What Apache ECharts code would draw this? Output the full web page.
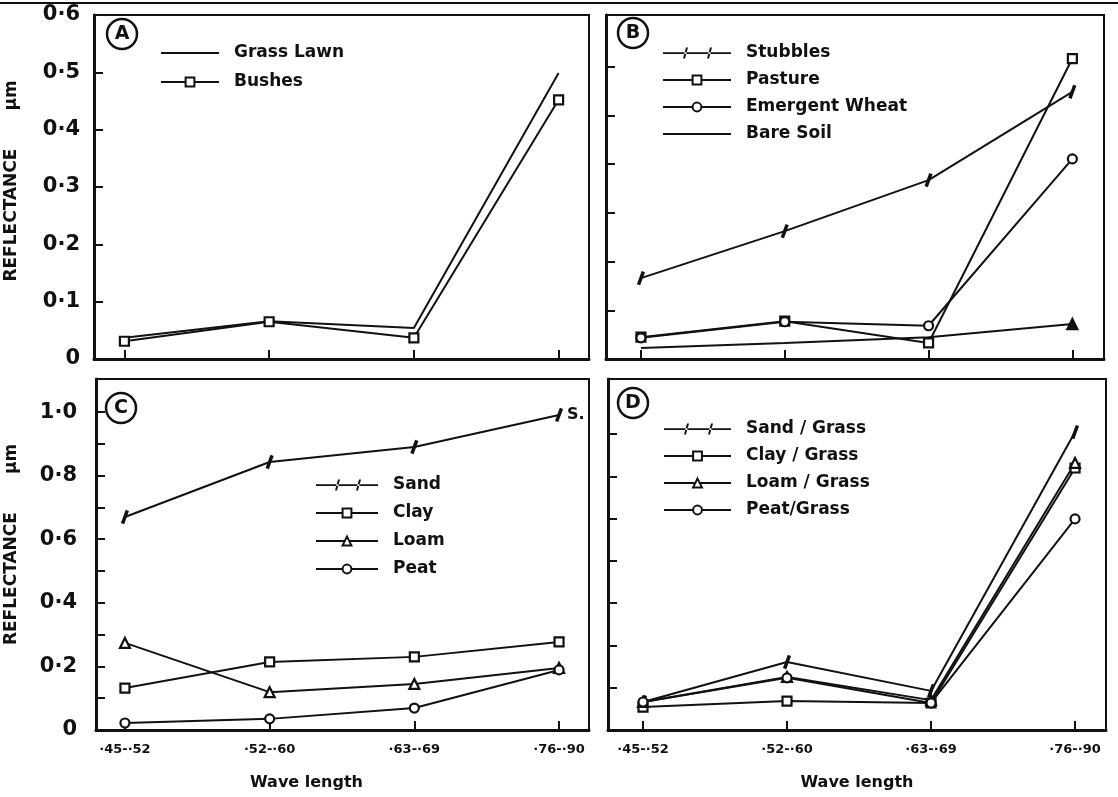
<!DOCTYPE html>
<html><head><meta charset="utf-8">
<script src="https://cdn.jsdelivr.net/npm/echarts@6/dist/echarts.min.js"></script>
<style>html,body{margin:0;padding:0;background:#fff}#c{width:1118px;height:797px}</style>
</head><body><div id="c"></div>
<script>
// ---------- data ----------
const categories = ['·45-·52', '·52-·60', '·63-·69', '·76-·90'];
const catIndex = [0, 1, 2, 3];

const yTickValuesAB = [0, 0.1, 0.2, 0.3, 0.4, 0.5, 0.6];
const yTickLabelsAB = ['0', '0·1', '0·2', '0·3', '0·4', '0·5', '0·6'];
const yTickValuesCD = [0, 0.2, 0.4, 0.6, 0.8, 1.0];
const yTickLabelsCD = ['0', '0·2', '0·4', '0·6', '0·8', '1·0'];
const yMinorTicksC = [0, 0.1, 0.2, 0.3, 0.4, 0.5, 0.6, 0.7, 0.8, 0.9, 1.0];
const yTicksB = [0.085, 0.17, 0.255, 0.34, 0.425, 0.51];
const yTicksD = [0.133, 0.266, 0.399, 0.532, 0.665, 0.798, 0.931];

// Panel A
const grassLawn = [0.037, 0.066, 0.054, 0.499];
const bushes = [0.031, 0.065, 0.037, 0.452];
// Panel B
const stubbles = [0.141, 0.223, 0.312, 0.466];
const pasture = [0.038, 0.066, 0.028, 0.524];
const emergentWheat = [0.037, 0.065, 0.058, 0.349];
const bareSoil = [0.019, 0.028, 0.038, 0.061];
// Panel C
const sand = [0.670, 0.843, 0.890, 0.991];
const clay = [0.132, 0.214, 0.230, 0.277];
const loam = [0.274, 0.119, 0.145, 0.195];
const peat = [0.022, 0.035, 0.069, 0.189];
// Panel D
const sandGrass = [0.088, 0.214, 0.123, 0.937];
const clayGrass = [0.072, 0.091, 0.085, 0.824];
const loamGrass = [0.088, 0.167, 0.094, 0.840];
const peatGrass = [0.088, 0.164, 0.085, 0.664];

// ---------- styles ----------
const INK = '#111';
const FONT = 'DejaVu Sans';
const tickPath = 'path://M0,0 L1,0 L1,4 L0,4 Z';

function pts(arr) { return arr.map((v, i) => [catIndex[i], v]); }

function lineSeries(name, arr, idx, sym, extra) {
  const s = {
    name, type: 'line', xAxisIndex: idx, yAxisIndex: idx,
    data: pts(arr),
    lineStyle: { color: INK, width: 2 },
    symbol: sym, symbolSize: 9,
    itemStyle: { color: '#fff', borderColor: INK, borderWidth: 2.2 },
    emphasis: { disabled: true }, animation: false, z: 3
  };
  if (sym === 'tick') {
    s.symbol = tickPath; s.symbolSize = 14; s.symbolRotate = -20; s.symbolKeepAspect = true;
    s.itemStyle = { color: INK, borderWidth: 0 };
  }
  if (sym === 'triangle') s.symbolSize = 10;
  return Object.assign(s, extra || {});
}

const grids = [
  { left: 94, right: 529, top: 15, bottom: 438 },
  { left: 606, right: 14, top: 15, bottom: 438 },
  { left: 96, right: 529, top: 379, bottom: 67 },
  { left: 608, right: 12, top: 379, bottom: 67 }
].map(g => Object.assign(g, { show: true, borderColor: INK, borderWidth: 2, containLabel: false }));

const xRanges = [[-0.21, 3.21], [-0.243, 3.22], [-0.2, 3.207], [-0.243, 3.215]];
const xAxes = xRanges.map((r, i) => ({
  type: 'value', gridIndex: i, min: r[0], max: r[1],
  splitLine: { show: false },
  axisLine: { show: true, onZero: false, lineStyle: { color: INK, width: 3 } },
  axisTick: { show: true, inside: true, length: 9, customValues: catIndex, lineStyle: { color: INK, width: 2 } },
  axisLabel: i < 2 ? { show: false } : {
    show: true, customValues: catIndex, formatter: v => categories[Math.round(v)],
    fontFamily: FONT, fontWeight: 'bold', fontSize: 13, color: INK, margin: 13
  },
  name: i < 2 ? '' : 'Wave length',
  nameLocation: 'middle', nameGap: 45,
  nameTextStyle: {
    fontFamily: FONT, fontWeight: 'bold', fontSize: 16, color: INK,
    padding: i === 2 ? [0, 72, 0, 0] : 0
  }
}));

function labelFmt(values, labels) {
  return v => { const k = values.findIndex(t => Math.abs(t - v) < 1e-6); return k >= 0 ? labels[k] : ''; };
}
const yName = '{a|REFLECTANCE}{b|μm}';
const yNameStyle = pad => ({
  fontFamily: FONT, fontWeight: 'bold', fontSize: 17, color: INK,
  padding: [0, 0, 0, pad],
  rich: {
    a: { fontFamily: FONT, fontWeight: 'bold', fontSize: 17, color: INK },
    b: { fontFamily: FONT, fontWeight: 'bold', fontSize: 17, color: INK, padding: [0, 0, 0, 38] }
  }
});
const yAxes = [
  {
    type: 'value', gridIndex: 0, min: 0, max: 0.6,
    axisTick: { show: true, inside: true, length: 9, customValues: yTickValuesAB, lineStyle: { color: INK, width: 2 } },
    axisLabel: { show: true, customValues: yTickValuesAB, formatter: labelFmt(yTickValuesAB, yTickLabelsAB), fontFamily: FONT, fontWeight: 'bold', fontSize: 21, color: INK, margin: 14 },
    name: yName, nameLocation: 'middle', nameRotate: 90, nameGap: 74, nameTextStyle: yNameStyle(12)
  },
  {
    type: 'value', gridIndex: 1, min: 0, max: 0.6,
    axisTick: { show: true, inside: true, length: 9, customValues: yTicksB, lineStyle: { color: INK, width: 2 } },
    axisLabel: { show: false }
  },
  {
    type: 'value', gridIndex: 2, min: 0, max: 1.104,
    axisTick: { show: true, inside: true, length: 9, customValues: yMinorTicksC, lineStyle: { color: INK, width: 2 } },
    axisLabel: { show: true, customValues: yTickValuesCD, formatter: labelFmt(yTickValuesCD, yTickLabelsCD), fontFamily: FONT, fontWeight: 'bold', fontSize: 21, color: INK, margin: 19 },
    name: yName, nameLocation: 'middle', nameRotate: 90, nameGap: 76, nameTextStyle: yNameStyle(20)
  },
  {
    type: 'value', gridIndex: 3, min: 0, max: 1.104,
    axisTick: { show: true, inside: true, length: 9, customValues: yTicksD, lineStyle: { color: INK, width: 2 } },
    axisLabel: { show: false }
  }
].map(a => Object.assign(a, {
  splitLine: { show: false },
  axisLine: { show: true, onZero: false, lineStyle: { color: INK, width: 3 } }
}));

const series = [
  lineSeries('Grass Lawn', grassLawn, 0, 'none'),
  lineSeries('Bushes', bushes, 0, 'rect'),
  lineSeries('Stubbles', stubbles, 1, 'tick'),
  lineSeries('Pasture', pasture, 1, 'rect'),
  lineSeries('Emergent Wheat', emergentWheat, 1, 'circle'),
  (function () {
    const s = lineSeries('Bare Soil', bareSoil, 1, 'none');
    s.data[3] = { value: s.data[3], symbol: 'triangle', symbolSize: 10, itemStyle: { color: INK, borderColor: INK } };
    return s;
  })(),
  (function () {
    const s = lineSeries('Sand', sand, 2, 'tick');
    s.data[3] = { value: s.data[3], label: { show: true, formatter: 'S.', position: 'right', distance: 4, fontFamily: FONT, fontWeight: 'bold', fontSize: 16, color: INK } };
    return s;
  })(),
  lineSeries('Clay', clay, 2, 'rect'),
  lineSeries('Loam', loam, 2, 'triangle'),
  lineSeries('Peat', peat, 2, 'circle'),
  lineSeries('Sand / Grass', sandGrass, 3, 'tick'),
  lineSeries('Clay / Grass', clayGrass, 3, 'rect'),
  lineSeries('Loam / Grass', loamGrass, 3, 'triangle'),
  lineSeries('Peat/Grass', peatGrass, 3, 'circle')
];

// legend icon for the "tick" series: a line crossed by two slanted ticks
function tickLegendIcon(w) {
  const h = 11, a = Math.round(w * 0.3), b = Math.round(w * 0.65);
  const tick = x => `M${x},${h} L${x + 2},${h} L${x + 5},0 L${x + 3},0 Z`;
  return `path://M0,4.8 L${w},4.8 L${w},6.6 L0,6.6 Z ${tick(a)} ${tick(b)}`;
}
const plainLine = { color: 'rgba(0,0,0,0)', borderColor: 'rgba(0,0,0,0)', borderWidth: 0, opacity: 0 };
function legend(names, left, top, width, gap) {
  return {
    data: names.map(n => {
      if (n === 'Grass Lawn' || n === 'Bare Soil') return { name: n, itemStyle: plainLine };
      if (n === 'Stubbles' || n === 'Sand' || n === 'Sand / Grass') return { name: n, icon: tickLegendIcon(width), itemStyle: { color: INK } };
      return n;
    }),
    left, top, orient: 'vertical', selectedMode: false,
    itemWidth: width, itemHeight: 11, itemGap: gap, padding: 0,
    textStyle: { fontFamily: FONT, fontWeight: 'bold', fontSize: 17, color: INK, lineHeight: 20, padding: [0, 0, 0, 10] }
  };
}
const legends = [
  legend(['Grass Lawn', 'Bushes'], 160, 43, 58, 9),
  legend(['Stubbles', 'Pasture', 'Emergent Wheat', 'Bare Soil'], 662, 43, 68, 7),
  legend(['Sand', 'Clay', 'Loam', 'Peat'], 315, 475, 62, 8),
  legend(['Sand / Grass', 'Clay / Grass', 'Loam / Grass', 'Peat/Grass'], 663, 419, 67, 7)
];

function badge(letter, cx, cy) {
  return {
    type: 'group', children: [
      { type: 'circle', shape: { cx, cy, r: 15 }, style: { fill: '#fff', stroke: INK, lineWidth: 2.5 } },
      { type: 'text', x: cx, y: cy, style: { text: letter, fill: INK, font: 'bold 19px "DejaVu Sans"', align: 'center', verticalAlign: 'middle' } }
    ]
  };
}

const chart = echarts.init(document.getElementById('c'), null, { renderer: 'canvas' });
chart.setOption({
  backgroundColor: '#fff',
  animation: false,
  grid: grids, xAxis: xAxes, yAxis: yAxes, series, legend: legends,
  graphic: [
    { type: 'line', shape: { x1: 0, y1: 3, x2: 1118, y2: 3 }, style: { stroke: INK, lineWidth: 2 } },
    badge('A', 122, 34), badge('B', 633, 33), badge('C', 121, 408), badge('D', 633, 403)
  ]
});
</script></body></html>
